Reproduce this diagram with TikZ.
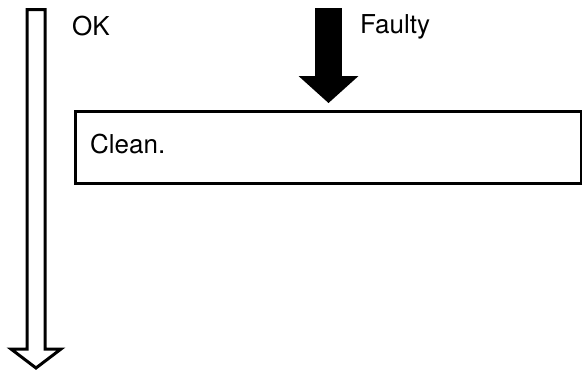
\documentclass[tikz,border=0pt]{standalone}
\usepackage{fontspec}
\setmainfont{TeX Gyre Heros}
\usetikzlibrary{arrows.meta, positioning, calc}

\begin{document}
\begin{tikzpicture}[
    x=1pt, y=-1pt,
    every node/.style={font=\fontsize{26}{30}\selectfont, inner sep=0pt},
    lbl/.style={anchor=base west},
    stepbox/.style={rectangle, draw=black, line width=3pt, minimum width=506pt, minimum height=72pt, anchor=north west},
    hollow/.style={draw=black, fill=white, line width=3pt, line join=miter},
    solid/.style={draw=black, line width=27pt, -{Triangle[width=60pt, length=27pt, line width=0pt]}}
]
\useasboundingbox (0,0) rectangle (582,372);

% ================= BOX =================
\node[stepbox] (clean) at (74,110) {};
\node[lbl] (cleantxt) at (90,153) {Clean.};

% ================= OK ARROW (hollow) =================
\coordinate (oktop) at (36,9.5);
\coordinate (oktip) at (36,368);
\draw[hollow] ($(oktop)+(-9,0)$) -- ($(oktop)+(9,0)$) -- ($(oktip)+(9,-19)$)
    -- ($(oktip)+(25,-19)$) -- (oktip) -- ($(oktip)+(-25,-19)$)
    -- ($(oktip)+(-9,-19)$) -- cycle;
\node[lbl] (ok) at (72,35) {OK};

% ================= FAULTY ARROW (solid) =================
\coordinate (faultytop) at (328.5,8);
\draw[solid, shorten >=7pt] (faultytop) -- (faultytop |- clean.north);
\node[lbl] (faulty) at (360,34) {Faulty};

\end{tikzpicture}
\end{document}
